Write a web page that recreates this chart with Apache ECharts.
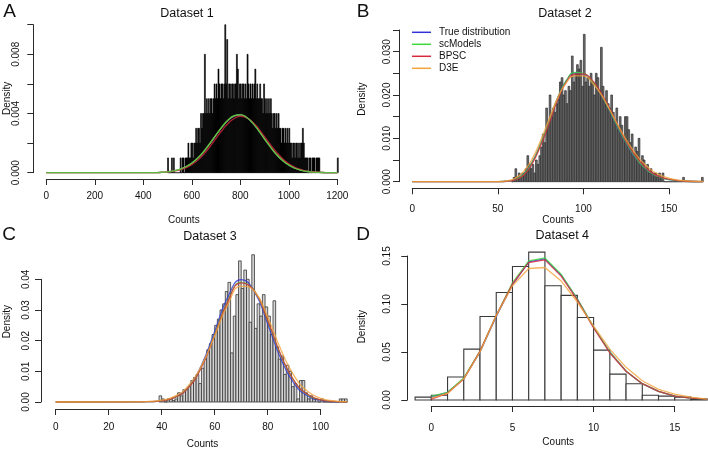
<!DOCTYPE html>
<html>
<head>
<meta charset="utf-8">
<script src="https://cdn.jsdelivr.net/npm/echarts@6/dist/echarts.min.js"></script>
<style>
  html, body { margin: 0; padding: 0; background: #fff; }
  #chart { width: 708px; height: 451px; }
</style>
</head>
<body>
<div id="chart"></div>
<script>
/*
    data
        histograms (bin start, bin width, heights)
        fitted curves (x, one array per method)
*/

const methods = ['True distribution', 'scModels', 'BPSC', 'D3E'];

// Dataset 1: spike heights per 4-count bin from 500, in cells (1 cell = 0.001 density)
const binStartA = 500;
const binWidthA = 4;
const countsA = [
    1,0,0,0,1, 0,1,0,0,0, 0,0,0,1,0, 1,1,0,1,1,
    1,2,1,1,2, 2,1,2,2,3, 2,3,3,2,4, 3,4,4,8,4,
    5,4,5,4,5, 5,4,5,6,5, 6,5,7,6,5, 6,6,5,6,10,
    6,9,5,6,6, 5,6,6,5,6, 6,8,7,5,6, 6,5,6,6,5,
    6,5,8,6,5, 6,5,6,5,6, 7,5,6,5,5, 6,5,5,4,6,
    5,4,5,4,5, 4,5,4,3,4, 4,3,4,3,4, 3,3,2,3,3,
    2,3,2,3,2, 3,2,2,1,2, 2,1,2,2,1, 2,1,2,2,3,
    2,1,1,1,1, 0,1,1,0,1, 1,1,0,1,1, 1,1,0,0,0,
    0,0,0,0,0, 0,0,0,0,0, 0,0,0,0,0, 1
];
const curveXA = [0, 450, 475, 500, 525, 550, 575, 600, 625, 650, 675, 700, 725, 750, 775, 800,
                 825, 850, 875, 900, 925, 950, 975, 1000, 1025, 1050, 1075, 1100, 1150, 1200];
const trueA = [0, 0, 0.00003, 0.00006, 0.00012, 0.00022, 0.00038, 0.00063, 0.00097, 0.00142, 0.00196, 0.00253, 0.00308, 0.00354, 0.00382, 0.0039,
               0.00374, 0.00337, 0.00287, 0.00229, 0.00174, 0.00123, 0.00083, 0.00052, 0.00031, 0.00017, 0.00009, 0.00004, 0.00001, 0];
const scModelsA = [0, 0, 0.00003, 0.00006, 0.00012, 0.00023, 0.0004, 0.00065, 0.001, 0.00145, 0.002, 0.00256, 0.00311, 0.00357, 0.00385, 0.00392,
                   0.00375, 0.00337, 0.00285, 0.00227, 0.00171, 0.00121, 0.00081, 0.00051, 0.0003, 0.00016, 0.00008, 0.00004, 0.00001, 0];
const bpscA = [0, 0, 0.00002, 0.00005, 0.0001, 0.00018, 0.00032, 0.00054, 0.00085, 0.00126, 0.00177, 0.00232, 0.00287, 0.00334, 0.00366, 0.0038,
               0.00372, 0.00343, 0.00298, 0.00243, 0.00188, 0.00137, 0.00094, 0.0006, 0.00037, 0.00021, 0.00011, 0.00005, 0.00001, 0];
const d3eA = [0, 0, 0.00003, 0.00006, 0.00012, 0.00022, 0.00039, 0.00064, 0.00099, 0.00144, 0.00198, 0.00255, 0.0031, 0.00356, 0.00384, 0.00391,
              0.00375, 0.00338, 0.00287, 0.00229, 0.00173, 0.00122, 0.00082, 0.00052, 0.00031, 0.00017, 0.00009, 0.00004, 0.00001, 0];

// Dataset 2: density per 1-count bin from 58
const binStartB = 58;
const densityB = [
    0, 0.001, 0.003, 0.001, 0.002, 0.001, 0.002, 0.002, 0.003, 0.006, 0.004, 0.003,
    0.004, 0.002, 0.005, 0.004, 0.006, 0.008, 0.011, 0.009, 0.017, 0.013, 0.020, 0.015,
    0.017, 0.016, 0.018, 0.019, 0.023, 0.024, 0.020, 0.021, 0.018, 0.022, 0.021, 0.029,
    0.023, 0.025, 0.027, 0.026, 0.028, 0.022, 0.034, 0.023, 0.024, 0.022, 0.025, 0.023,
    0.020, 0.025, 0.024, 0.021, 0.031, 0.022, 0.019, 0.021, 0.018, 0.017, 0.020, 0.016,
    0.014, 0.017, 0.012, 0.015, 0.013, 0.010, 0.015, 0.015, 0.012, 0.009, 0.011, 0.006,
    0.008, 0.007, 0.010, 0.004, 0.006, 0.005, 0.003, 0.004, 0.002, 0.003, 0.002, 0.002,
    0.002, 0.001, 0.002, 0.001, 0.002, 0, 0, 0, 0, 0, 0, 0,
    0, 0, 0, 0, 0.001, 0, 0, 0, 0, 0, 0, 0,
    0, 0, 0, 0.001
];
const curveXB = [0, 40, 50, 55, 60, 65, 70, 75, 80, 85, 90, 95, 100, 105, 110, 115, 120, 125, 130, 135, 140, 145, 150, 160, 170];
const trueB = [0, 0, 0.00002, 0.0001, 0.0005, 0.0018, 0.0045, 0.0088, 0.014, 0.0194, 0.0233, 0.0251, 0.0249,
               0.0232, 0.0203, 0.0166, 0.0126, 0.0089, 0.0058, 0.0035, 0.0019, 0.001, 0.0005, 0.0001, 0];
const scModelsB = [0, 0, 0.00002, 0.0001, 0.0005, 0.0017, 0.0044, 0.0087, 0.0139, 0.0193, 0.0233, 0.0252, 0.025,
                   0.0233, 0.0204, 0.0167, 0.0127, 0.009, 0.0059, 0.0035, 0.0019, 0.001, 0.0005, 0.0001, 0];
const bpscB = [0, 0, 0.00001, 0.00008, 0.0004, 0.0015, 0.0041, 0.0083, 0.0135, 0.019, 0.023, 0.0248, 0.0249,
               0.0235, 0.0207, 0.0171, 0.0131, 0.0093, 0.0062, 0.0038, 0.0021, 0.0011, 0.0006, 0.0001, 0];
const d3eB = [0, 0, 0.00004, 0.0002, 0.0008, 0.0023, 0.0052, 0.0095, 0.0145, 0.0194, 0.0228, 0.0244, 0.0244,
              0.0229, 0.0203, 0.0169, 0.0132, 0.0097, 0.0067, 0.0043, 0.0026, 0.0015, 0.0008, 0.0002, 0.00005];

// Dataset 3: density per 1-count bin from 39
const binStartC = 39;
const densityC = [
    0.002, 0.001, 0, 0.001, 0.001, 0.0005, 0.001, 0.003, 0.002, 0.004, 0.004,
    0.005, 0.007, 0.008, 0.009, 0.006, 0.011, 0.014, 0.017, 0.019, 0.022,
    0.025, 0.027, 0.030, 0.032, 0.036, 0.039, 0.016, 0.028, 0.035, 0.046,
    0.037, 0.043, 0.040, 0.026, 0.048, 0.024, 0.032, 0.028, 0.035, 0.031,
    0.028, 0.022, 0.033, 0.018, 0.014, 0.015, 0.009, 0.012, 0.010, 0.005,
    0.006, 0.001, 0.007, 0.007, 0.003, 0.001, 0.002, 0.001, 0.001, 0,
    0.001, 0, 0, 0, 0, 0, 0, 0.001, 0.001, 0.001
];
const curveXC = [0, 30, 35, 40, 45, 50, 55, 60, 65, 70, 75, 80, 85, 90, 95, 100, 105, 110];
const trueC = [0, 0.00001, 0.0001, 0.0004, 0.0016, 0.0049, 0.012, 0.023, 0.0343, 0.0399, 0.036, 0.0254, 0.014, 0.006, 0.002, 0.0005, 0.0001, 0];
const scModelsC = [0, 0.00001, 0.0001, 0.0004, 0.0015, 0.0047, 0.0115, 0.022, 0.0331, 0.039, 0.0362, 0.0264, 0.0151, 0.0068, 0.0024, 0.0007, 0.0002, 0];
const bpscC = [0, 0.00001, 0.0001, 0.0004, 0.0015, 0.0046, 0.0113, 0.0218, 0.0328, 0.0388, 0.0362, 0.0266, 0.0153, 0.0069, 0.0025, 0.0007, 0.0002, 0];
const d3eC = [0, 0.00003, 0.0002, 0.0006, 0.0019, 0.0052, 0.0118, 0.0216, 0.0318, 0.0378, 0.0361, 0.0277, 0.017, 0.0085, 0.0035, 0.0012, 0.0004, 0.0001];

// Dataset 4: density per 1-count bin from -1
const binStartD = -1;
const densityD = [0.003, 0.005, 0.024, 0.053, 0.087, 0.112, 0.139, 0.154, 0.119, 0.109, 0.086, 0.052, 0.027, 0.017, 0.005, 0.004, 0.003, 0.001];
const curveXD = [0, 1, 2, 3, 4, 5, 6, 7, 8, 9, 10, 11, 12, 13, 14, 15, 16, 17];
const trueD = [0.003, 0.008, 0.022, 0.05, 0.087, 0.12, 0.144, 0.147, 0.13, 0.105, 0.076, 0.05, 0.03, 0.017, 0.009, 0.004, 0.002, 0.001];
const scModelsD = [0.004, 0.008, 0.023, 0.051, 0.088, 0.122, 0.145, 0.148, 0.131, 0.105, 0.076, 0.05, 0.03, 0.017, 0.009, 0.004, 0.002, 0.001];
const bpscD = [0.001, 0.007, 0.022, 0.051, 0.088, 0.121, 0.143, 0.146, 0.129, 0.104, 0.075, 0.049, 0.03, 0.017, 0.009, 0.004, 0.002, 0.001];
const d3eD = [0.002, 0.007, 0.022, 0.05, 0.088, 0.119, 0.137, 0.138, 0.124, 0.102, 0.077, 0.053, 0.034, 0.02, 0.011, 0.006, 0.003, 0.001];

const colors = ['#3232d8', '#3cd83c', '#d8283c', '#f2a33a'];
const font = '"Liberation Sans", Arial, sans-serif';

function fnc_bins(start, width, values, scale){
    let bins = [];
    for(let i in values){
        let x0 = start + i * width;
        bins.push([x0, x0 + width, values[i] * scale]);
    }
    return bins;
}

function fnc_hist_series(axis, bins, fill, stroke, lw){
    return {
        type: 'custom',
        xAxisIndex: axis,
        yAxisIndex: axis,
        silent: true,
        clip: false,
        z: 2,
        data: bins,
        encode: {x: [0, 1], y: 2},
        renderItem: function(params, api){
            let top = api.coord([api.value(0), api.value(2)]);
            let bottom = api.coord([api.value(1), 0]);
            return {
                type: 'rect',
                shape: {x: top[0], y: top[1], width: bottom[0] - top[0], height: bottom[1] - top[1]},
                style: {fill: fill, stroke: stroke, lineWidth: lw}
            };
        }
    };
}

// order: z of each method, so the curve drawn on top can differ per panel
function fnc_curve_series(axis, xs, curves, smooth, order){
    let series = [];
    for(let m in methods){
        series.push({
            type: 'line',
            name: methods[m],
            xAxisIndex: axis,
            yAxisIndex: axis,
            data: xs.map((x, i) => [x, curves[m][i]]),
            smooth: smooth,
            showSymbol: false,
            silent: true,
            clip: false,
            lineStyle: {color: colors[m], width: 1.3, opacity: 0.8},
            itemStyle: {color: colors[m]},
            z: 3 + (order ? order[m] : Number(m))
        });
    }
    return series;
}

// visible axes follow R: line only from first to last tick, pushed off the plot
function fnc_axes(grid, xr, yr, cnf){
    let axisStyle = {onZero: false, lineStyle: {color: '#2a2a2a', width: 1}};
    let labelStyle = {color: '#111', fontSize: 10, fontFamily: font};
    let x = {
        type: 'value', gridIndex: grid, min: xr[0], max: xr[1], interval: xr[2],
        offset: cnf.xOffset, axisLine: axisStyle, splitLine: {show: false},
        axisTick: {length: 6, lineStyle: axisStyle.lineStyle},
        axisLabel: Object.assign({margin: cnf.xMargin, formatter: v => String(v)}, labelStyle)
    };
    let y = {
        type: 'value', gridIndex: grid, min: yr[0], max: yr[1], interval: yr[2],
        offset: cnf.yOffset, axisLine: axisStyle, splitLine: {show: false},
        axisTick: {length: 6, lineStyle: axisStyle.lineStyle},
        axisLabel: Object.assign({
            margin: cnf.yMargin, rotate: 90,
            formatter: function(v){
                let k = Math.round(v / yr[2]);
                return (cnf.every == 2 && k % 2 == 1) ? '' : v.toFixed(cnf.digits);
            }
        }, labelStyle)
    };
    return [x, y];
}

function fnc_hidden_axes(grid, xr, yr){
    return [
        {type: 'value', gridIndex: grid, min: xr[0], max: xr[1], show: false},
        {type: 'value', gridIndex: grid, min: yr[0], max: yr[1], show: false}
    ];
}

let grids = [
    {left: 46.3, top: 24.7, width: 291, height: 148},      // A
    {left: 412.3, top: 30, width: 256.7, height: 151.7},   // B axes
    {left: 412.3, top: 30, width: 290.9, height: 151.7},   // B data
    {left: 55.7, top: 279.3, width: 265, height: 122.7},   // C axes
    {left: 55.7, top: 248.6, width: 291.5, height: 153.4}, // C data
    {left: 431.3, top: 256, width: 243.4, height: 144},    // D axes
    {left: 415.1, top: 246.4, width: 292.1, height: 153.6} // D data
];

let axA = fnc_axes(0, [0, 1200, 200], [0, 0.010, 0.002], {xOffset: 6.3, yOffset: 13, xMargin: 12, yMargin: 12, digits: 3, every: 2});
let axB = fnc_axes(1, [0, 150, 50], [0, 0.035, 0.005], {xOffset: 6.6, yOffset: 13.3, xMargin: 16, yMargin: 7, digits: 3, every: 2});
let hdB = fnc_hidden_axes(2, [0, 170], [0, 0.035]);
let axC = fnc_axes(3, [0, 100, 20], [0, 0.04, 0.01], {xOffset: 7, yOffset: 14.7, xMargin: 13.5, yMargin: 10, digits: 2, every: 1});
let hdC = fnc_hidden_axes(4, [0, 110], [0, 0.05]);
let axD = fnc_axes(5, [0, 15, 5], [0, 0.15, 0.05], {xOffset: 6, yOffset: 24, xMargin: 17, yMargin: 15, digits: 2, every: 1});
let hdD = fnc_hidden_axes(6, [-1, 17], [0, 0.16]);

let xAxes = [axA[0], axB[0], hdB[0], axC[0], hdC[0], axD[0], hdD[0]];
let yAxes = [axA[1], axB[1], hdB[1], axC[1], hdC[1], axD[1], hdD[1]];

let series = [].concat(
    fnc_hist_series(0, fnc_bins(binStartA, binWidthA, countsA, 0.001), '#000', '#000', 0.6),
    fnc_curve_series(0, curveXA, [trueA, scModelsA, bpscA, d3eA], true, [0, 3, 2, 1]),
    fnc_hist_series(2, fnc_bins(binStartB, 1, densityB, 1), '#747474', '#2a2a2a', 0.7),
    fnc_curve_series(2, curveXB, [trueB, scModelsB, bpscB, d3eB], true),
    fnc_hist_series(4, fnc_bins(binStartC, 1, densityC, 1), '#d4d4d4', '#333', 0.8),
    fnc_curve_series(4, curveXC, [trueC, scModelsC, bpscC, d3eC], true),
    fnc_hist_series(6, fnc_bins(binStartD, 1, densityD, 1), '#fff', '#3a3a3a', 1.1),
    fnc_curve_series(6, curveXD, [trueD, scModelsD, bpscD, d3eD], false)
);

//free texts: panel letters, titles, axis names
function fnc_text(x, y, text, size, rotate){
    return {
        type: 'text', x: x, y: y, rotation: rotate ? Math.PI / 2 : 0, silent: true,
        style: {text: text, fill: '#111', font: size + 'px ' + font, textAlign: 'center', textVerticalAlign: 'middle'}
    };
}

let texts = [
    fnc_text(9.7, 11.7, 'A', 19), fnc_text(363.2, 11.7, 'B', 19),
    fnc_text(9.2, 235, 'C', 19), fnc_text(363.2, 235, 'D', 19),
    fnc_text(187, 13.3, 'Dataset 1', 12.5), fnc_text(565, 13.3, 'Dataset 2', 12.5),
    fnc_text(210, 236.7, 'Dataset 3', 12.5), fnc_text(562.3, 236, 'Dataset 4', 12.5),
    fnc_text(183.8, 220.7, 'Counts', 10), fnc_text(558.2, 220.7, 'Counts', 10),
    fnc_text(202.5, 444.3, 'Counts', 10), fnc_text(558.2, 442.3, 'Counts', 10),
    fnc_text(7.5, 98.3, 'Density', 10, true), fnc_text(362.7, 99.2, 'Density', 10, true),
    fnc_text(7.2, 321.7, 'Density', 10, true), fnc_text(362.7, 326.7, 'Density', 10, true)
];

let chart = echarts.init(document.getElementById('chart'), null, {renderer: 'canvas'});
chart.setOption({
    animation: false,
    backgroundColor: '#fff',
    grid: grids,
    xAxis: xAxes,
    yAxis: yAxes,
    legend: {
        data: methods,
        orient: 'vertical',
        left: 412,
        top: 26.3,
        padding: 0,
        itemGap: 0,
        itemWidth: 19,
        itemHeight: 1.5,
        icon: 'rect',
        selectedMode: false,
        textStyle: {fontSize: 10, fontFamily: font, color: '#111', lineHeight: 12, padding: [0, 0, 0, 3]}
    },
    graphic: texts,
    series: series
});
</script>
</body>
</html>
